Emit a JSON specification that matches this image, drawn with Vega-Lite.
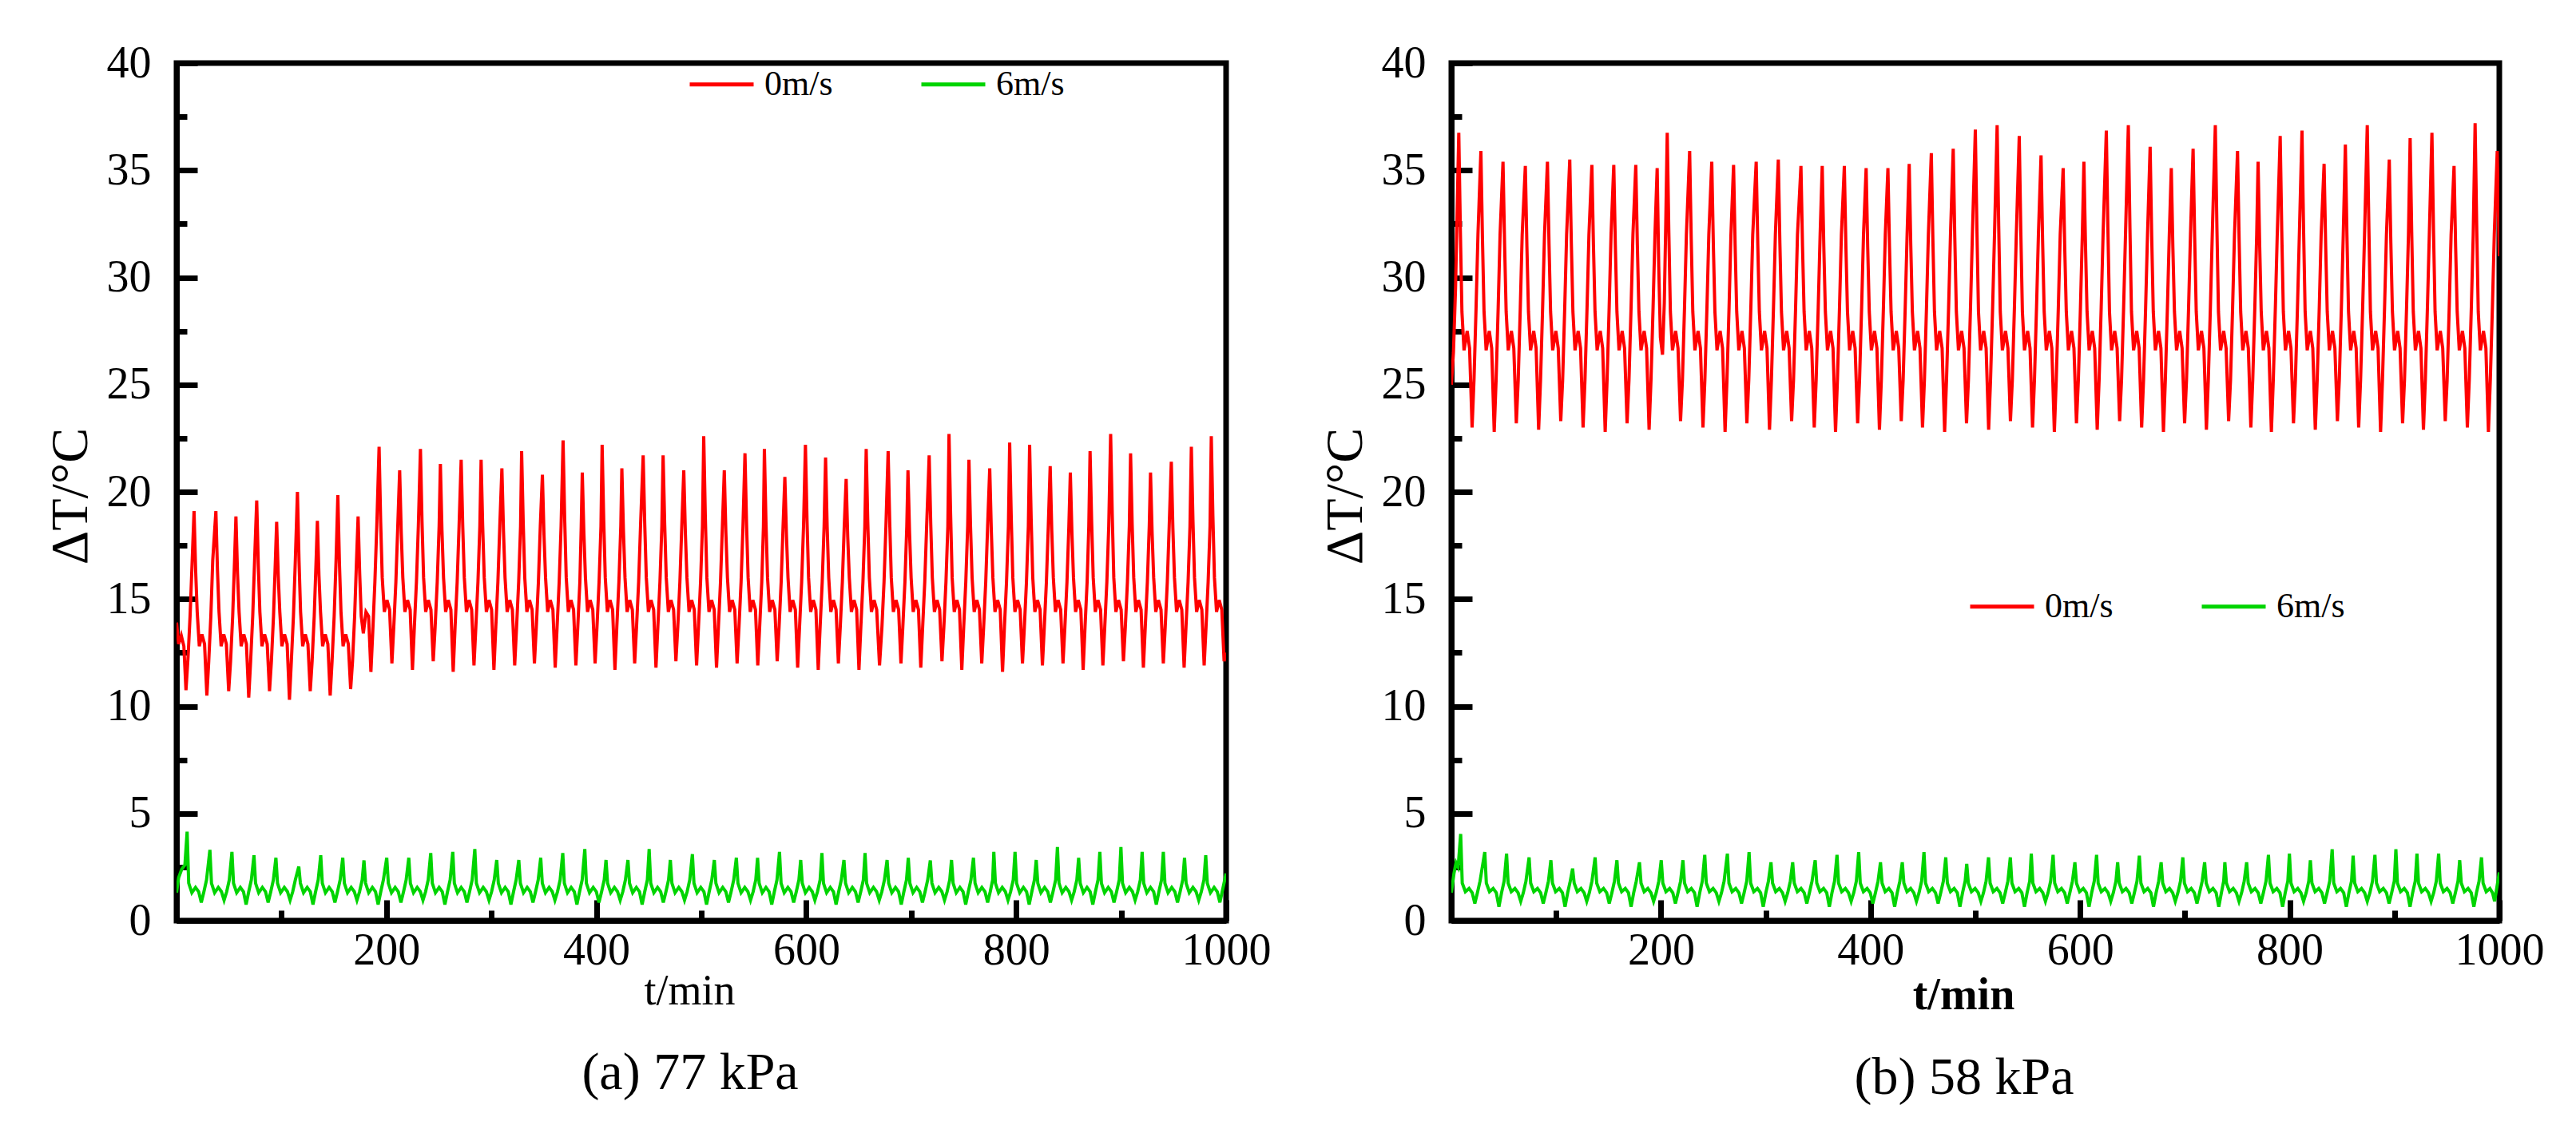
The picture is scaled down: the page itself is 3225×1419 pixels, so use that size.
{
"$schema": "https://vega.github.io/schema/vega-lite/v6.json",
"padding": {"left": 51, "top": 47, "right": 10, "bottom": 10},
"background": "white",
"bounds": "flush",
"spacing": 282,
"config": {
 "font": "Liberation Serif",
 "view": {"stroke": "#000", "strokeWidth": 7},
 "axis": {"grid": false, "domainColor": "#000", "domainWidth": 7, "tickColor": "#000", "tickWidth": 7, "labelFont": "Liberation Serif", "labelFontSize": 56, "labelColor": "#000", "labelFlush": false, "labelOverlap": false, "titleFont": "Liberation Serif", "titleFontSize": 66, "titleFontWeight": "normal", "titleColor": "#000"},
 "legend": {"orient": "none", "direction": "horizontal", "symbolType": "stroke", "symbolSize": 6400, "symbolStrokeWidth": 5, "labelFont": "Liberation Serif", "labelFontSize": 44, "labelColor": "#000", "labelOffset": 11, "columnPadding": 100, "padding": 0, "labelLimit": 400}
},
"datasets": {
"a0": [
{"t":0,"v":13.9},{"t":2,"v":12.9},{"t":4.5,"v":13.3},{"t":7,"v":12.8},{"t":9,"v":10.75},{"t":11,"v":12.3},{"t":13,"v":14.3},{"t":15,"v":16.9},
{"t":16.7,"v":19.1},{"t":18.2,"v":16.35},{"t":19.7,"v":14.4},{"t":21.7,"v":12.8},{"t":24.2,"v":13.35},{"t":26.7,"v":12.9},{"t":28.9,"v":10.5},{"t":30.7,"v":12.1},{"t":32.7,"v":14.2},{"t":34.5,"v":16.8},
{"t":37.5,"v":19.1},{"t":39,"v":16.35},{"t":40.5,"v":14.4},{"t":42.5,"v":12.8},{"t":45,"v":13.35},{"t":47.5,"v":12.9},{"t":49.7,"v":10.7},{"t":51.5,"v":12.1},{"t":53.5,"v":14.2},{"t":55.3,"v":16.8},
{"t":56.6,"v":18.85},{"t":58.1,"v":16.2},{"t":59.6,"v":14.4},{"t":61.6,"v":12.8},{"t":64.1,"v":13.35},{"t":66.6,"v":12.9},{"t":68.8,"v":10.4},{"t":70.6,"v":12.1},{"t":72.6,"v":14.2},{"t":74.4,"v":16.8},
{"t":76.4,"v":19.6},{"t":77.9,"v":16.6},{"t":79.4,"v":14.4},{"t":81.4,"v":12.8},{"t":83.9,"v":13.35},{"t":86.4,"v":12.9},{"t":88.6,"v":10.7},{"t":90.4,"v":12.1},{"t":92.4,"v":14.2},{"t":94.2,"v":16.8},
{"t":95.4,"v":18.6},{"t":96.9,"v":16.1},{"t":98.4,"v":14.4},{"t":100.4,"v":12.8},{"t":102.9,"v":13.35},{"t":105.4,"v":12.9},{"t":107.6,"v":10.3},{"t":109.4,"v":12.1},{"t":111.4,"v":14.2},{"t":113.2,"v":16.8},
{"t":115.2,"v":20},{"t":116.7,"v":16.8},{"t":118.2,"v":14.4},{"t":120.2,"v":12.8},{"t":122.7,"v":13.35},{"t":125.2,"v":12.9},{"t":127.4,"v":10.7},{"t":129.2,"v":12.1},{"t":131.2,"v":14.2},{"t":133,"v":16.8},
{"t":134.2,"v":18.65},{"t":135.7,"v":16.1},{"t":137.2,"v":14.4},{"t":139.2,"v":12.8},{"t":141.7,"v":13.35},{"t":144.2,"v":12.9},{"t":146.4,"v":10.5},{"t":148.2,"v":12.1},{"t":150.2,"v":14.2},{"t":152,"v":16.8},
{"t":153.7,"v":19.85},{"t":155.2,"v":16.7},{"t":156.7,"v":14.4},{"t":158.7,"v":12.8},{"t":161.2,"v":13.35},{"t":163.7,"v":12.9},{"t":165.9,"v":10.8},{"t":167.7,"v":12.1},{"t":169.7,"v":14.2},{"t":171.5,"v":16.8},
{"t":173,"v":18.85},{"t":174.5,"v":16.2},{"t":176,"v":14.2},{"t":178,"v":13.4},{"t":180.5,"v":14.4},{"t":183,"v":14.2},{"t":185.2,"v":11.6},{"t":187,"v":13.5},{"t":189,"v":15.8},{"t":190.8,"v":18.4},
{"t":193,"v":22.1},{"t":194.5,"v":18.6},{"t":196,"v":16},{"t":198,"v":14.4},{"t":200.5,"v":14.95},{"t":203,"v":14.5},{"t":205.2,"v":12},{"t":207,"v":13.7},{"t":209,"v":15.8},{"t":210.8,"v":18.4},
{"t":212.6,"v":21},{"t":214.1,"v":18.1},{"t":215.6,"v":16},{"t":217.6,"v":14.4},{"t":220.1,"v":14.95},{"t":222.6,"v":14.5},{"t":224.8,"v":11.7},{"t":226.6,"v":13.7},{"t":228.6,"v":15.8},{"t":230.4,"v":18.4},
{"t":232.4,"v":22},{"t":233.9,"v":18.6},{"t":235.4,"v":16},{"t":237.4,"v":14.4},{"t":239.9,"v":14.95},{"t":242.4,"v":14.5},{"t":244.6,"v":12.1},{"t":246.4,"v":13.7},{"t":248.4,"v":15.8},{"t":250.2,"v":18.4},
{"t":251.4,"v":21.3},{"t":252.9,"v":18.2},{"t":254.4,"v":16},{"t":256.4,"v":14.4},{"t":258.9,"v":14.95},{"t":261.4,"v":14.5},{"t":263.6,"v":11.6},{"t":265.4,"v":13.7},{"t":267.4,"v":15.8},{"t":269.2,"v":18.4},
{"t":271.2,"v":21.5},{"t":272.7,"v":18.4},{"t":274.2,"v":16},{"t":276.2,"v":14.4},{"t":278.7,"v":14.95},{"t":281.2,"v":14.5},{"t":283.4,"v":11.9},{"t":285.2,"v":13.7},{"t":287.2,"v":15.8},{"t":289,"v":18.4},
{"t":290.2,"v":21.5},{"t":291.7,"v":18.4},{"t":293.2,"v":16},{"t":295.2,"v":14.4},{"t":297.7,"v":14.95},{"t":300.2,"v":14.5},{"t":302.4,"v":11.7},{"t":304.2,"v":13.7},{"t":306.2,"v":15.8},{"t":308,"v":18.4},
{"t":310,"v":21.1},{"t":311.5,"v":18.2},{"t":313,"v":16},{"t":315,"v":14.4},{"t":317.5,"v":14.95},{"t":320,"v":14.5},{"t":322.2,"v":11.9},{"t":324,"v":13.7},{"t":326,"v":15.8},{"t":327.8,"v":18.4},
{"t":328.8,"v":21.9},{"t":330.3,"v":18.6},{"t":331.8,"v":16},{"t":333.8,"v":14.4},{"t":336.3,"v":14.95},{"t":338.8,"v":14.5},{"t":341,"v":12},{"t":342.8,"v":13.7},{"t":344.8,"v":15.8},{"t":346.6,"v":18.4},
{"t":348.6,"v":20.8},{"t":350.1,"v":18},{"t":351.6,"v":16},{"t":353.6,"v":14.4},{"t":356.1,"v":14.95},{"t":358.6,"v":14.5},{"t":360.8,"v":11.8},{"t":362.6,"v":13.7},{"t":364.6,"v":15.8},{"t":366.4,"v":18.4},
{"t":368.3,"v":22.4},{"t":369.8,"v":18.8},{"t":371.3,"v":16},{"t":373.3,"v":14.4},{"t":375.8,"v":14.95},{"t":378.3,"v":14.5},{"t":380.5,"v":11.9},{"t":382.3,"v":13.7},{"t":384.3,"v":15.8},{"t":385.6,"v":18.4},
{"t":386.6,"v":20.9},{"t":388.1,"v":18.1},{"t":389.6,"v":16},{"t":391.6,"v":14.4},{"t":394.1,"v":14.95},{"t":396.6,"v":14.5},{"t":398.8,"v":12},{"t":400.6,"v":13.7},{"t":402.6,"v":15.8},{"t":404.4,"v":18.4},
{"t":405.5,"v":22.2},{"t":407,"v":18.7},{"t":408.5,"v":16},{"t":410.5,"v":14.4},{"t":413,"v":14.95},{"t":415.5,"v":14.5},{"t":417.7,"v":11.7},{"t":419.5,"v":13.7},{"t":421.5,"v":15.8},{"t":423.3,"v":18.4},
{"t":424.3,"v":21.1},{"t":425.8,"v":18.2},{"t":427.3,"v":16},{"t":429.3,"v":14.4},{"t":431.8,"v":14.95},{"t":434.3,"v":14.5},{"t":436.5,"v":12},{"t":438.3,"v":13.7},{"t":440.3,"v":15.8},{"t":442.1,"v":18.4},
{"t":444.6,"v":21.7},{"t":446.1,"v":18.5},{"t":447.6,"v":16},{"t":449.6,"v":14.4},{"t":452.1,"v":14.95},{"t":454.6,"v":14.5},{"t":456.8,"v":11.8},{"t":458.6,"v":13.7},{"t":460.6,"v":15.8},{"t":462.4,"v":18.4},
{"t":463.6,"v":21.7},{"t":465.1,"v":18.5},{"t":466.6,"v":16},{"t":468.6,"v":14.4},{"t":471.1,"v":14.95},{"t":473.6,"v":14.5},{"t":475.8,"v":12.1},{"t":477.6,"v":13.7},{"t":479.6,"v":15.8},{"t":481.4,"v":18.4},
{"t":483.3,"v":21},{"t":484.8,"v":18.1},{"t":486.3,"v":16},{"t":488.3,"v":14.4},{"t":490.8,"v":14.95},{"t":493.3,"v":14.5},{"t":495.5,"v":11.9},{"t":497.3,"v":13.7},{"t":499.3,"v":15.8},{"t":501.1,"v":18.4},
{"t":502.3,"v":22.6},{"t":503.8,"v":18.9},{"t":505.3,"v":16},{"t":507.3,"v":14.4},{"t":509.8,"v":14.95},{"t":512.3,"v":14.5},{"t":514.5,"v":11.8},{"t":516.3,"v":13.7},{"t":518.3,"v":15.8},{"t":520.1,"v":18.4},
{"t":521.9,"v":21},{"t":523.4,"v":18.1},{"t":524.9,"v":16},{"t":526.9,"v":14.4},{"t":529.4,"v":14.95},{"t":531.9,"v":14.5},{"t":534.1,"v":12},{"t":535.9,"v":13.7},{"t":537.9,"v":15.8},{"t":539.7,"v":18.4},
{"t":541.6,"v":21.8},{"t":543.1,"v":18.5},{"t":544.6,"v":16},{"t":546.6,"v":14.4},{"t":549.1,"v":14.95},{"t":551.6,"v":14.5},{"t":553.8,"v":11.9},{"t":555.6,"v":13.7},{"t":557.6,"v":15.8},{"t":559.2,"v":18.4},
{"t":560.1,"v":22},{"t":561.6,"v":18.6},{"t":563.1,"v":16},{"t":565.1,"v":14.4},{"t":567.6,"v":14.95},{"t":570.1,"v":14.5},{"t":572.3,"v":12.1},{"t":574.1,"v":13.7},{"t":576.1,"v":15.8},{"t":577.9,"v":18.4},
{"t":579.6,"v":20.7},{"t":581.1,"v":18},{"t":582.6,"v":16},{"t":584.6,"v":14.4},{"t":587.1,"v":14.95},{"t":589.6,"v":14.5},{"t":591.8,"v":11.8},{"t":593.6,"v":13.7},{"t":595.6,"v":15.8},{"t":597.4,"v":18.4},
{"t":599.2,"v":22.2},{"t":600.7,"v":18.7},{"t":602.2,"v":16},{"t":604.2,"v":14.4},{"t":606.7,"v":14.95},{"t":609.2,"v":14.5},{"t":611.4,"v":11.7},{"t":613.2,"v":13.7},{"t":615.2,"v":15.8},{"t":617,"v":18.4},
{"t":618.4,"v":21.6},{"t":619.9,"v":18.4},{"t":621.4,"v":16},{"t":623.4,"v":14.4},{"t":625.9,"v":14.95},{"t":628.4,"v":14.5},{"t":630.6,"v":12},{"t":632.4,"v":13.7},{"t":634.4,"v":15.8},{"t":636.2,"v":18.4},
{"t":638,"v":20.6},{"t":639.5,"v":17.9},{"t":641,"v":16},{"t":643,"v":14.4},{"t":645.5,"v":14.95},{"t":648,"v":14.5},{"t":650.2,"v":11.7},{"t":652,"v":13.7},{"t":654,"v":15.8},{"t":655.8,"v":18.4},
{"t":657.1,"v":22},{"t":658.6,"v":18.6},{"t":660.1,"v":16},{"t":662.1,"v":14.4},{"t":664.6,"v":14.95},{"t":667.1,"v":14.5},{"t":669.8,"v":11.9},{"t":672.1,"v":13.7},{"t":674.1,"v":15.8},{"t":675.9,"v":18.4},
{"t":678,"v":21.9},{"t":679.5,"v":18.6},{"t":681,"v":16},{"t":683,"v":14.4},{"t":685.5,"v":14.95},{"t":688,"v":14.5},{"t":690.2,"v":12},{"t":692,"v":13.7},{"t":694,"v":15.8},{"t":695.8,"v":18.4},
{"t":696.9,"v":21},{"t":698.4,"v":18.1},{"t":699.9,"v":16},{"t":701.9,"v":14.4},{"t":704.4,"v":14.95},{"t":706.9,"v":14.5},{"t":709.1,"v":11.8},{"t":710.9,"v":13.7},{"t":712.9,"v":15.8},{"t":714.7,"v":18.4},
{"t":717.1,"v":21.7},{"t":718.6,"v":18.5},{"t":720.1,"v":16},{"t":722.1,"v":14.4},{"t":724.6,"v":14.95},{"t":727.1,"v":14.5},{"t":729.3,"v":12.1},{"t":731.1,"v":13.7},{"t":733.1,"v":15.8},{"t":734.9,"v":18.4},
{"t":736,"v":22.7},{"t":737.5,"v":19},{"t":739,"v":16},{"t":741,"v":14.4},{"t":743.5,"v":14.95},{"t":746,"v":14.5},{"t":748.2,"v":11.7},{"t":750,"v":13.7},{"t":752,"v":15.8},{"t":753.8,"v":18.4},
{"t":755,"v":21.5},{"t":756.5,"v":18.4},{"t":758,"v":16},{"t":760,"v":14.4},{"t":762.5,"v":14.95},{"t":765,"v":14.5},{"t":767.2,"v":12},{"t":769,"v":13.7},{"t":771,"v":15.8},{"t":772.8,"v":18.4},
{"t":774.8,"v":21.1},{"t":776.3,"v":18.2},{"t":777.8,"v":16},{"t":779.8,"v":14.4},{"t":782.3,"v":14.95},{"t":784.8,"v":14.5},{"t":787,"v":11.6},{"t":788.8,"v":13.7},{"t":790.8,"v":15.8},{"t":792.6,"v":18.4},
{"t":793.8,"v":22.3},{"t":795.3,"v":18.8},{"t":796.8,"v":16},{"t":798.8,"v":14.4},{"t":801.3,"v":14.95},{"t":803.8,"v":14.5},{"t":806,"v":12},{"t":807.8,"v":13.7},{"t":809.8,"v":15.8},{"t":811.6,"v":18.4},
{"t":812.8,"v":22.2},{"t":814.3,"v":18.7},{"t":815.8,"v":16},{"t":817.8,"v":14.4},{"t":820.3,"v":14.95},{"t":822.8,"v":14.5},{"t":825,"v":11.9},{"t":826.8,"v":13.7},{"t":828.8,"v":15.8},{"t":830.6,"v":18.4},
{"t":832.4,"v":21.2},{"t":833.9,"v":18.2},{"t":835.4,"v":16},{"t":837.4,"v":14.4},{"t":839.9,"v":14.95},{"t":842.4,"v":14.5},{"t":844.6,"v":12},{"t":846.4,"v":13.7},{"t":848.4,"v":15.8},{"t":850.2,"v":18.4},
{"t":851.6,"v":20.9},{"t":853.1,"v":18.1},{"t":854.6,"v":16},{"t":856.6,"v":14.4},{"t":859.1,"v":14.95},{"t":861.6,"v":14.5},{"t":863.8,"v":11.7},{"t":865.6,"v":13.7},{"t":867.6,"v":15.8},{"t":869.2,"v":18.4},
{"t":870.4,"v":21.9},{"t":871.9,"v":18.6},{"t":873.4,"v":16},{"t":875.4,"v":14.4},{"t":877.9,"v":14.95},{"t":880.4,"v":14.5},{"t":882.6,"v":11.9},{"t":884.4,"v":13.7},{"t":886.4,"v":15.8},{"t":888.2,"v":18.4},
{"t":890,"v":22.7},{"t":891.5,"v":19},{"t":893,"v":16},{"t":895,"v":14.4},{"t":897.5,"v":14.95},{"t":900,"v":14.5},{"t":902.2,"v":12.1},{"t":904,"v":13.7},{"t":906,"v":15.8},{"t":907.8,"v":18.4},
{"t":909,"v":21.8},{"t":910.5,"v":18.5},{"t":912,"v":16},{"t":914,"v":14.4},{"t":916.5,"v":14.95},{"t":919,"v":14.5},{"t":921.2,"v":11.8},{"t":923,"v":13.7},{"t":925,"v":15.8},{"t":926.8,"v":18.4},
{"t":928,"v":20.9},{"t":929.5,"v":18.1},{"t":931,"v":16},{"t":933,"v":14.4},{"t":935.5,"v":14.95},{"t":938,"v":14.5},{"t":940.2,"v":12},{"t":942,"v":13.7},{"t":944,"v":15.8},{"t":945.8,"v":18.4},
{"t":947.8,"v":21.4},{"t":949.3,"v":18.3},{"t":950.8,"v":16},{"t":952.8,"v":14.4},{"t":955.3,"v":14.95},{"t":957.8,"v":14.5},{"t":960,"v":11.8},{"t":961.8,"v":13.7},{"t":963.8,"v":15.8},{"t":965.6,"v":18.4},
{"t":966.9,"v":22.1},{"t":968.4,"v":18.7},{"t":969.9,"v":16},{"t":971.9,"v":14.4},{"t":974.4,"v":14.95},{"t":976.9,"v":14.5},{"t":979.1,"v":11.9},{"t":980.9,"v":13.7},{"t":982.9,"v":15.8},{"t":984.7,"v":18.4},
{"t":985.9,"v":22.6},{"t":987.4,"v":18.9},{"t":988.9,"v":16},{"t":990.9,"v":14.4},{"t":993.4,"v":14.95},{"t":995.9,"v":14.5},{"t":998.1,"v":12.1},{"t":1000,"v":12.5}
],
"a6": [
{"t":0,"v":1.3},{"t":2,"v":2.0},{"t":5,"v":2.4},{"t":8,"v":2.6},
{"t":10.1,"v":4.15},{"t":11.6,"v":1.75},{"t":14.6,"v":1.3},{"t":18.1,"v":1.55},{"t":21.1,"v":1.35},{"t":23.6,"v":0.85},{"t":26.1,"v":1.35},{"t":28.6,"v":1.9},
{"t":31.8,"v":3.3},{"t":33.3,"v":1.75},{"t":36.3,"v":1.3},{"t":39.8,"v":1.55},{"t":42.8,"v":1.35},{"t":45.3,"v":0.95},{"t":47.8,"v":1.35},{"t":50.3,"v":1.9},
{"t":52.8,"v":3.21},{"t":54.3,"v":1.75},{"t":57.3,"v":1.3},{"t":60.8,"v":1.55},{"t":63.8,"v":1.35},{"t":66.3,"v":0.75},{"t":68.8,"v":1.35},{"t":71.3,"v":1.9},
{"t":73.8,"v":3.05},{"t":75.3,"v":1.75},{"t":78.3,"v":1.3},{"t":81.8,"v":1.55},{"t":84.8,"v":1.35},{"t":87.3,"v":0.85},{"t":89.8,"v":1.35},{"t":92.3,"v":1.9},
{"t":94.7,"v":2.93},{"t":96.2,"v":1.75},{"t":99.2,"v":1.3},{"t":102.7,"v":1.55},{"t":105.7,"v":1.35},{"t":108.2,"v":0.95},{"t":110.7,"v":1.35},{"t":113.2,"v":1.9},
{"t":116.5,"v":2.52},{"t":118,"v":1.75},{"t":121,"v":1.3},{"t":124.5,"v":1.55},{"t":127.5,"v":1.35},{"t":130,"v":0.75},{"t":132.5,"v":1.35},{"t":135,"v":1.9},
{"t":137.4,"v":3.05},{"t":138.9,"v":1.75},{"t":141.9,"v":1.3},{"t":145.4,"v":1.55},{"t":148.4,"v":1.35},{"t":150.9,"v":0.85},{"t":153.4,"v":1.35},{"t":155.9,"v":1.9},
{"t":158.4,"v":2.93},{"t":159.9,"v":1.75},{"t":162.9,"v":1.3},{"t":166.4,"v":1.55},{"t":169.4,"v":1.35},{"t":171.9,"v":0.95},{"t":174.4,"v":1.35},{"t":176.9,"v":1.9},
{"t":178.6,"v":2.81},{"t":180.1,"v":1.75},{"t":183.1,"v":1.3},{"t":186.6,"v":1.55},{"t":189.6,"v":1.35},{"t":192.1,"v":0.75},{"t":194.6,"v":1.35},{"t":197.1,"v":1.9},
{"t":200.3,"v":2.93},{"t":201.8,"v":1.75},{"t":204.8,"v":1.3},{"t":208.3,"v":1.55},{"t":211.3,"v":1.35},{"t":213.8,"v":0.85},{"t":216.3,"v":1.35},{"t":218.8,"v":1.9},
{"t":221.3,"v":2.93},{"t":222.8,"v":1.75},{"t":225.8,"v":1.3},{"t":229.3,"v":1.55},{"t":232.3,"v":1.35},{"t":234.8,"v":0.95},{"t":237.3,"v":1.35},{"t":239.8,"v":1.9},
{"t":242.2,"v":3.15},{"t":243.7,"v":1.75},{"t":246.7,"v":1.3},{"t":250.2,"v":1.55},{"t":253.2,"v":1.35},{"t":255.7,"v":0.75},{"t":258.2,"v":1.35},{"t":260.7,"v":1.9},
{"t":263.2,"v":3.21},{"t":264.7,"v":1.75},{"t":267.7,"v":1.3},{"t":271.2,"v":1.55},{"t":274.2,"v":1.35},{"t":276.7,"v":0.85},{"t":279.2,"v":1.35},{"t":281.7,"v":1.9},
{"t":284.2,"v":3.34},{"t":285.7,"v":1.75},{"t":288.7,"v":1.3},{"t":292.2,"v":1.55},{"t":295.2,"v":1.35},{"t":297.7,"v":0.95},{"t":300.2,"v":1.35},{"t":302.7,"v":1.9},
{"t":305.1,"v":2.83},{"t":306.6,"v":1.75},{"t":309.6,"v":1.3},{"t":313.1,"v":1.55},{"t":316.1,"v":1.35},{"t":318.6,"v":0.75},{"t":321.1,"v":1.35},{"t":323.6,"v":1.9},
{"t":326.1,"v":2.83},{"t":327.6,"v":1.75},{"t":330.6,"v":1.3},{"t":334.1,"v":1.55},{"t":337.1,"v":1.35},{"t":339.6,"v":0.85},{"t":342.1,"v":1.35},{"t":344.6,"v":1.9},
{"t":347,"v":2.93},{"t":348.5,"v":1.75},{"t":351.5,"v":1.3},{"t":355,"v":1.55},{"t":358,"v":1.35},{"t":360.5,"v":0.95},{"t":363,"v":1.35},{"t":365.5,"v":1.9},
{"t":368,"v":3.15},{"t":369.5,"v":1.75},{"t":372.5,"v":1.3},{"t":376,"v":1.55},{"t":379,"v":1.35},{"t":381.5,"v":0.75},{"t":384,"v":1.35},{"t":386.5,"v":1.9},
{"t":389,"v":3.34},{"t":390.5,"v":1.75},{"t":393.5,"v":1.3},{"t":397,"v":1.55},{"t":400,"v":1.35},{"t":402.5,"v":0.85},{"t":405,"v":1.35},{"t":407.5,"v":1.9},
{"t":409.2,"v":2.83},{"t":410.7,"v":1.75},{"t":413.7,"v":1.3},{"t":417.2,"v":1.55},{"t":420.2,"v":1.35},{"t":422.7,"v":0.95},{"t":425.2,"v":1.35},{"t":427.7,"v":1.9},
{"t":430.1,"v":2.83},{"t":431.6,"v":1.75},{"t":434.6,"v":1.3},{"t":438.1,"v":1.55},{"t":441.1,"v":1.35},{"t":443.6,"v":0.75},{"t":446.1,"v":1.35},{"t":448.6,"v":1.9},
{"t":450.3,"v":3.34},{"t":451.8,"v":1.75},{"t":454.8,"v":1.3},{"t":458.3,"v":1.55},{"t":461.3,"v":1.35},{"t":463.8,"v":0.85},{"t":466.3,"v":1.35},{"t":468.8,"v":1.9},
{"t":470.5,"v":2.83},{"t":472,"v":1.75},{"t":475,"v":1.3},{"t":478.5,"v":1.55},{"t":481.5,"v":1.35},{"t":484,"v":0.95},{"t":486.5,"v":1.35},{"t":489,"v":1.9},
{"t":491.5,"v":3.1},{"t":493,"v":1.75},{"t":496,"v":1.3},{"t":499.5,"v":1.55},{"t":502.5,"v":1.35},{"t":505,"v":0.75},{"t":507.5,"v":1.35},{"t":510,"v":1.9},
{"t":512.4,"v":2.83},{"t":513.9,"v":1.75},{"t":516.9,"v":1.3},{"t":520.4,"v":1.55},{"t":523.4,"v":1.35},{"t":525.9,"v":0.85},{"t":528.4,"v":1.35},{"t":530.9,"v":1.9},
{"t":533.4,"v":2.93},{"t":534.9,"v":1.75},{"t":537.9,"v":1.3},{"t":541.4,"v":1.55},{"t":544.4,"v":1.35},{"t":546.9,"v":0.95},{"t":549.4,"v":1.35},{"t":551.9,"v":1.9},
{"t":553.6,"v":2.93},{"t":555.1,"v":1.75},{"t":558.1,"v":1.3},{"t":561.6,"v":1.55},{"t":564.6,"v":1.35},{"t":567.1,"v":0.75},{"t":569.6,"v":1.35},{"t":572.1,"v":1.9},
{"t":574.5,"v":3.21},{"t":576,"v":1.75},{"t":579,"v":1.3},{"t":582.5,"v":1.55},{"t":585.5,"v":1.35},{"t":588,"v":0.85},{"t":590.5,"v":1.35},{"t":593,"v":1.9},
{"t":594.7,"v":2.83},{"t":596.2,"v":1.75},{"t":599.2,"v":1.3},{"t":602.7,"v":1.55},{"t":605.7,"v":1.35},{"t":608.2,"v":0.95},{"t":610.7,"v":1.35},{"t":613.2,"v":1.9},
{"t":614.9,"v":3.15},{"t":616.4,"v":1.75},{"t":619.4,"v":1.3},{"t":622.9,"v":1.55},{"t":625.9,"v":1.35},{"t":628.4,"v":0.75},{"t":630.9,"v":1.35},{"t":633.4,"v":1.9},
{"t":635.9,"v":2.83},{"t":637.4,"v":1.75},{"t":640.4,"v":1.3},{"t":643.9,"v":1.55},{"t":646.9,"v":1.35},{"t":649.4,"v":0.85},{"t":651.9,"v":1.35},{"t":654.4,"v":1.9},
{"t":656,"v":3.15},{"t":657.5,"v":1.75},{"t":660.5,"v":1.3},{"t":664,"v":1.55},{"t":667,"v":1.35},{"t":669.5,"v":0.95},{"t":672,"v":1.35},{"t":674.5,"v":1.9},
{"t":677,"v":2.83},{"t":678.5,"v":1.75},{"t":681.5,"v":1.3},{"t":685,"v":1.55},{"t":688,"v":1.35},{"t":690.5,"v":0.75},{"t":693,"v":1.35},{"t":695.5,"v":1.9},
{"t":697.2,"v":2.93},{"t":698.7,"v":1.75},{"t":701.7,"v":1.3},{"t":705.2,"v":1.55},{"t":708.2,"v":1.35},{"t":710.7,"v":0.85},{"t":713.2,"v":1.35},{"t":715.7,"v":1.9},
{"t":718.2,"v":2.81},{"t":719.7,"v":1.75},{"t":722.7,"v":1.3},{"t":726.2,"v":1.55},{"t":729.2,"v":1.35},{"t":731.7,"v":0.95},{"t":734.2,"v":1.35},{"t":736.7,"v":1.9},
{"t":738.4,"v":2.83},{"t":739.9,"v":1.75},{"t":742.9,"v":1.3},{"t":746.4,"v":1.55},{"t":749.4,"v":1.35},{"t":751.9,"v":0.75},{"t":754.4,"v":1.35},{"t":756.9,"v":1.9},
{"t":759.3,"v":2.93},{"t":760.8,"v":1.75},{"t":763.8,"v":1.3},{"t":767.3,"v":1.55},{"t":770.3,"v":1.35},{"t":772.8,"v":0.85},{"t":775.3,"v":1.35},{"t":777.6,"v":1.9},
{"t":778.7,"v":3.21},{"t":780.2,"v":1.75},{"t":783.2,"v":1.3},{"t":786.7,"v":1.55},{"t":789.7,"v":1.35},{"t":792.2,"v":0.95},{"t":794.7,"v":1.35},{"t":797.2,"v":1.9},
{"t":798.9,"v":3.21},{"t":800.4,"v":1.75},{"t":803.4,"v":1.3},{"t":806.9,"v":1.55},{"t":809.9,"v":1.35},{"t":812.4,"v":0.75},{"t":814.9,"v":1.35},{"t":817.4,"v":1.9},
{"t":819.1,"v":2.83},{"t":820.6,"v":1.75},{"t":823.6,"v":1.3},{"t":827.1,"v":1.55},{"t":830.1,"v":1.35},{"t":832.6,"v":0.85},{"t":835.1,"v":1.35},{"t":837.6,"v":1.9},
{"t":839.3,"v":3.43},{"t":840.8,"v":1.75},{"t":843.8,"v":1.3},{"t":847.3,"v":1.55},{"t":850.3,"v":1.35},{"t":852.8,"v":0.95},{"t":855.3,"v":1.35},{"t":857.8,"v":1.9},
{"t":859.5,"v":2.93},{"t":861,"v":1.75},{"t":864,"v":1.3},{"t":867.5,"v":1.55},{"t":870.5,"v":1.35},{"t":873,"v":0.75},{"t":875.5,"v":1.35},{"t":878,"v":1.9},
{"t":879.7,"v":3.21},{"t":881.2,"v":1.75},{"t":884.2,"v":1.3},{"t":887.7,"v":1.55},{"t":890.7,"v":1.35},{"t":893.2,"v":0.85},{"t":895.7,"v":1.35},{"t":898.2,"v":1.9},
{"t":899.8,"v":3.43},{"t":901.3,"v":1.75},{"t":904.3,"v":1.3},{"t":907.8,"v":1.55},{"t":910.8,"v":1.35},{"t":913.3,"v":0.95},{"t":915.8,"v":1.35},{"t":918.3,"v":1.9},
{"t":920,"v":3.21},{"t":921.5,"v":1.75},{"t":924.5,"v":1.3},{"t":928,"v":1.55},{"t":931,"v":1.35},{"t":933.5,"v":0.75},{"t":936,"v":1.35},{"t":938.5,"v":1.9},
{"t":940.2,"v":3.21},{"t":941.7,"v":1.75},{"t":944.7,"v":1.3},{"t":948.2,"v":1.55},{"t":951.2,"v":1.35},{"t":953.7,"v":0.85},{"t":956.2,"v":1.35},{"t":958.7,"v":1.9},
{"t":960.4,"v":2.93},{"t":961.9,"v":1.75},{"t":964.9,"v":1.3},{"t":968.4,"v":1.55},{"t":971.4,"v":1.35},{"t":973.9,"v":0.95},{"t":976.4,"v":1.35},{"t":978.9,"v":1.9},
{"t":980.6,"v":3.05},{"t":982.1,"v":1.75},{"t":985.1,"v":1.3},{"t":988.6,"v":1.55},{"t":991.6,"v":1.35},{"t":994.1,"v":0.85},{"t":1000,"v":2.2}
],
"b0": [
{"t":0,"v":25},{"t":2,"v":26.5},{"t":4,"v":29.5},{"t":5.5,"v":33},
{"t":7.1,"v":36.75},{"t":8.6,"v":32.2},{"t":10.1,"v":28.4},{"t":12.1,"v":26.6},{"t":15.1,"v":27.5},{"t":17.4,"v":26.7},{"t":19.8,"v":23},{"t":21.6,"v":25.2},{"t":23.6,"v":28.6},{"t":25.4,"v":32},
{"t":28.2,"v":35.9},{"t":29.7,"v":31.8},{"t":31.2,"v":28.4},{"t":33.2,"v":26.6},{"t":36.2,"v":27.5},{"t":38.5,"v":26.7},{"t":40.9,"v":22.8},{"t":42.7,"v":25.2},{"t":44.7,"v":28.6},{"t":46.5,"v":32},
{"t":49.3,"v":35.4},{"t":50.8,"v":31.55},{"t":52.3,"v":28.4},{"t":54.3,"v":26.6},{"t":57.3,"v":27.5},{"t":59.6,"v":26.7},{"t":62,"v":23.2},{"t":63.8,"v":25.2},{"t":65.8,"v":28.6},{"t":67.6,"v":32},
{"t":70.6,"v":35.2},{"t":72.1,"v":31.45},{"t":73.6,"v":28.4},{"t":75.6,"v":26.6},{"t":78.6,"v":27.5},{"t":80.9,"v":26.7},{"t":83.3,"v":22.9},{"t":85.1,"v":25.2},{"t":87.1,"v":28.6},{"t":88.9,"v":32},
{"t":91.7,"v":35.4},{"t":93.2,"v":31.55},{"t":94.7,"v":28.4},{"t":96.7,"v":26.6},{"t":99.7,"v":27.5},{"t":102,"v":26.7},{"t":104.4,"v":23.3},{"t":106.2,"v":25.2},{"t":108.2,"v":28.6},{"t":110,"v":32},
{"t":113,"v":35.5},{"t":114.5,"v":31.6},{"t":116,"v":28.4},{"t":118,"v":26.6},{"t":121,"v":27.5},{"t":123.3,"v":26.7},{"t":125.7,"v":23},{"t":127.5,"v":25.2},{"t":129.5,"v":28.6},{"t":131.3,"v":32},
{"t":134.1,"v":35.25},{"t":135.6,"v":31.5},{"t":137.1,"v":28.4},{"t":139.1,"v":26.6},{"t":142.1,"v":27.5},{"t":144.4,"v":26.7},{"t":146.8,"v":22.8},{"t":148.6,"v":25.2},{"t":150.6,"v":28.6},{"t":152.4,"v":32},
{"t":155,"v":35.25},{"t":156.5,"v":31.5},{"t":158,"v":28.4},{"t":160,"v":26.6},{"t":163,"v":27.5},{"t":165.3,"v":26.7},{"t":167.7,"v":23.2},{"t":169.5,"v":25.2},{"t":171.5,"v":28.6},{"t":173.3,"v":32},
{"t":176,"v":35.25},{"t":177.5,"v":31.5},{"t":179,"v":28.4},{"t":181,"v":26.6},{"t":184,"v":27.5},{"t":186.3,"v":26.7},{"t":188.7,"v":22.9},{"t":190.5,"v":25.2},{"t":192.5,"v":28.6},{"t":194.3,"v":32},
{"t":196.4,"v":35.1},{"t":197.9,"v":30.5},{"t":199.5,"v":27.2},{"t":201.5,"v":26.4},{"t":203.2,"v":28.8},{"t":204.6,"v":32.5},
{"t":206,"v":36.75},{"t":207.5,"v":32.2},{"t":209,"v":28.4},{"t":211,"v":26.6},{"t":214,"v":27.5},{"t":216.3,"v":26.7},{"t":218.7,"v":23.3},{"t":220.5,"v":25.2},{"t":222.5,"v":28.6},{"t":224.3,"v":32},
{"t":227.4,"v":35.9},{"t":228.9,"v":31.8},{"t":230.4,"v":28.4},{"t":232.4,"v":26.6},{"t":235.4,"v":27.5},{"t":237.7,"v":26.7},{"t":240.1,"v":23},{"t":241.9,"v":25.2},{"t":243.9,"v":28.6},{"t":245.7,"v":32},
{"t":248.5,"v":35.4},{"t":250,"v":31.55},{"t":251.5,"v":28.4},{"t":253.5,"v":26.6},{"t":256.5,"v":27.5},{"t":258.8,"v":26.7},{"t":261.2,"v":22.8},{"t":263,"v":25.2},{"t":265,"v":28.6},{"t":266.8,"v":32},
{"t":269.3,"v":35.25},{"t":270.8,"v":31.5},{"t":272.3,"v":28.4},{"t":274.3,"v":26.6},{"t":277.3,"v":27.5},{"t":279.6,"v":26.7},{"t":282,"v":23.2},{"t":283.8,"v":25.2},{"t":285.8,"v":28.6},{"t":287.6,"v":32},
{"t":290.9,"v":35.4},{"t":292.4,"v":31.55},{"t":293.9,"v":28.4},{"t":295.9,"v":26.6},{"t":298.9,"v":27.5},{"t":301.2,"v":26.7},{"t":303.6,"v":22.9},{"t":305.4,"v":25.2},{"t":307.4,"v":28.6},{"t":309.2,"v":32},
{"t":312,"v":35.5},{"t":313.5,"v":31.6},{"t":315,"v":28.4},{"t":317,"v":26.6},{"t":320,"v":27.5},{"t":322.3,"v":26.7},{"t":324.7,"v":23.3},{"t":326.5,"v":25.2},{"t":328.5,"v":28.6},{"t":330.3,"v":32},
{"t":333.6,"v":35.2},{"t":335.1,"v":31.45},{"t":336.6,"v":28.4},{"t":338.6,"v":26.6},{"t":341.6,"v":27.5},{"t":343.9,"v":26.7},{"t":346.3,"v":23},{"t":348.1,"v":25.2},{"t":350.1,"v":28.6},{"t":351.9,"v":32},
{"t":353.9,"v":35.2},{"t":355.4,"v":31.45},{"t":356.9,"v":28.4},{"t":358.9,"v":26.6},{"t":361.9,"v":27.5},{"t":364.2,"v":26.7},{"t":366.6,"v":22.8},{"t":368.4,"v":25.2},{"t":370.4,"v":28.6},{"t":372.2,"v":32},
{"t":375,"v":35.2},{"t":376.5,"v":31.45},{"t":378,"v":28.4},{"t":380,"v":26.6},{"t":383,"v":27.5},{"t":385.3,"v":26.7},{"t":387.7,"v":23.2},{"t":389.5,"v":25.2},{"t":391.5,"v":28.6},{"t":393.3,"v":32},
{"t":395.8,"v":35.1},{"t":397.3,"v":31.4},{"t":398.8,"v":28.4},{"t":400.8,"v":26.6},{"t":403.8,"v":27.5},{"t":406.1,"v":26.7},{"t":408.5,"v":22.9},{"t":410.3,"v":25.2},{"t":412.3,"v":28.6},{"t":414.1,"v":32},
{"t":416.6,"v":35.1},{"t":418.1,"v":31.4},{"t":419.6,"v":28.4},{"t":421.6,"v":26.6},{"t":424.6,"v":27.5},{"t":426.9,"v":26.7},{"t":429.3,"v":23.3},{"t":431.1,"v":25.2},{"t":433.1,"v":28.6},{"t":434.9,"v":32},
{"t":436.9,"v":35.3},{"t":438.4,"v":31.5},{"t":439.9,"v":28.4},{"t":441.9,"v":26.6},{"t":444.9,"v":27.5},{"t":447.2,"v":26.7},{"t":449.6,"v":23},{"t":451.4,"v":25.2},{"t":453.4,"v":28.6},{"t":455.2,"v":32},
{"t":458,"v":35.8},{"t":459.5,"v":31.75},{"t":461,"v":28.4},{"t":463,"v":26.6},{"t":466,"v":27.5},{"t":468.3,"v":26.7},{"t":470.7,"v":22.8},{"t":472.5,"v":25.2},{"t":474.5,"v":28.6},{"t":476.3,"v":32},
{"t":478.9,"v":36},{"t":480.4,"v":31.85},{"t":481.9,"v":28.4},{"t":483.9,"v":26.6},{"t":486.9,"v":27.5},{"t":489.2,"v":26.7},{"t":491.6,"v":23.2},{"t":493.4,"v":25.2},{"t":495.4,"v":28.6},{"t":497.2,"v":32},
{"t":500,"v":36.9},{"t":501.5,"v":32.3},{"t":503,"v":28.4},{"t":505,"v":26.6},{"t":508,"v":27.5},{"t":510.3,"v":26.7},{"t":512.7,"v":22.9},{"t":514.5,"v":25.2},{"t":516.5,"v":28.6},{"t":518.3,"v":32},
{"t":520.8,"v":37.1},{"t":522.3,"v":32.4},{"t":523.8,"v":28.4},{"t":525.8,"v":26.6},{"t":528.8,"v":27.5},{"t":531.1,"v":26.7},{"t":533.5,"v":23.3},{"t":535.3,"v":25.2},{"t":537.3,"v":28.6},{"t":539.1,"v":32},
{"t":541.9,"v":36.6},{"t":543.4,"v":32.15},{"t":544.9,"v":28.4},{"t":546.9,"v":26.6},{"t":549.9,"v":27.5},{"t":552.2,"v":26.7},{"t":554.6,"v":23},{"t":556.4,"v":25.2},{"t":558.4,"v":28.6},{"t":560.2,"v":32},
{"t":562.7,"v":35.7},{"t":564.2,"v":31.7},{"t":565.7,"v":28.4},{"t":567.7,"v":26.6},{"t":570.7,"v":27.5},{"t":573,"v":26.7},{"t":575.4,"v":22.8},{"t":577.2,"v":25.2},{"t":579.2,"v":28.6},{"t":581,"v":32},
{"t":583.8,"v":35.1},{"t":585.3,"v":31.4},{"t":586.8,"v":28.4},{"t":588.8,"v":26.6},{"t":591.8,"v":27.5},{"t":594.1,"v":26.7},{"t":596.5,"v":23.2},{"t":598.3,"v":25.2},{"t":600.3,"v":28.6},{"t":602.1,"v":32},
{"t":603.6,"v":35.4},{"t":605.1,"v":31.55},{"t":606.6,"v":28.4},{"t":608.6,"v":26.6},{"t":611.6,"v":27.5},{"t":613.9,"v":26.7},{"t":616.3,"v":22.9},{"t":618.1,"v":25.2},{"t":620.1,"v":28.6},{"t":621.9,"v":32},
{"t":625,"v":36.85},{"t":626.5,"v":32.3},{"t":628,"v":28.4},{"t":630,"v":26.6},{"t":633,"v":27.5},{"t":635.3,"v":26.7},{"t":637.7,"v":23.3},{"t":639.5,"v":25.2},{"t":641.5,"v":28.6},{"t":643.3,"v":32},
{"t":646,"v":37.1},{"t":647.5,"v":32.4},{"t":649,"v":28.4},{"t":651,"v":26.6},{"t":654,"v":27.5},{"t":656.3,"v":26.7},{"t":658.7,"v":23},{"t":660.5,"v":25.2},{"t":662.5,"v":28.6},{"t":664.3,"v":32},
{"t":666.8,"v":36.1},{"t":668.3,"v":31.9},{"t":669.8,"v":28.4},{"t":671.8,"v":26.6},{"t":674.8,"v":27.5},{"t":677.1,"v":26.7},{"t":679.5,"v":22.8},{"t":681.3,"v":25.2},{"t":683.3,"v":28.6},{"t":685.1,"v":32},
{"t":687,"v":35.1},{"t":688.5,"v":31.4},{"t":690,"v":28.4},{"t":692,"v":26.6},{"t":695,"v":27.5},{"t":697.3,"v":26.7},{"t":699.7,"v":23.2},{"t":701.5,"v":25.2},{"t":703.5,"v":28.6},{"t":705.3,"v":32},
{"t":707.8,"v":36},{"t":709.3,"v":31.85},{"t":710.8,"v":28.4},{"t":712.8,"v":26.6},{"t":715.8,"v":27.5},{"t":718.1,"v":26.7},{"t":720.5,"v":22.9},{"t":722.3,"v":25.2},{"t":724.3,"v":28.6},{"t":726.1,"v":32},
{"t":729,"v":37.1},{"t":730.5,"v":32.4},{"t":732,"v":28.4},{"t":734,"v":26.6},{"t":737,"v":27.5},{"t":739.3,"v":26.7},{"t":741.7,"v":23.3},{"t":743.5,"v":25.2},{"t":745.5,"v":28.6},{"t":747.3,"v":32},
{"t":750.2,"v":35.9},{"t":751.7,"v":31.8},{"t":753.2,"v":28.4},{"t":755.2,"v":26.6},{"t":758.2,"v":27.5},{"t":760.5,"v":26.7},{"t":762.9,"v":23},{"t":764.7,"v":25.2},{"t":766.7,"v":28.6},{"t":768.5,"v":32},
{"t":769.8,"v":35.4},{"t":771.3,"v":31.55},{"t":772.8,"v":28.4},{"t":774.8,"v":26.6},{"t":777.8,"v":27.5},{"t":780.1,"v":26.7},{"t":782.5,"v":22.8},{"t":784.3,"v":25.2},{"t":786.3,"v":28.6},{"t":788.1,"v":32},
{"t":790.9,"v":36.6},{"t":792.4,"v":32.15},{"t":793.9,"v":28.4},{"t":795.9,"v":26.6},{"t":798.9,"v":27.5},{"t":801.2,"v":26.7},{"t":803.6,"v":23.2},{"t":805.4,"v":25.2},{"t":807.4,"v":28.6},{"t":809.2,"v":32},
{"t":811.7,"v":36.85},{"t":813.2,"v":32.3},{"t":814.7,"v":28.4},{"t":816.7,"v":26.6},{"t":819.7,"v":27.5},{"t":822,"v":26.7},{"t":824.4,"v":22.9},{"t":826.2,"v":25.2},{"t":828.2,"v":28.6},{"t":830,"v":32},
{"t":832.8,"v":35.3},{"t":834.3,"v":31.5},{"t":835.8,"v":28.4},{"t":837.8,"v":26.6},{"t":840.8,"v":27.5},{"t":843.1,"v":26.7},{"t":845.5,"v":23.3},{"t":847.3,"v":25.2},{"t":849.3,"v":28.6},{"t":851.1,"v":32},
{"t":853.1,"v":36.2},{"t":854.6,"v":31.95},{"t":856.1,"v":28.4},{"t":858.1,"v":26.6},{"t":861.1,"v":27.5},{"t":863.4,"v":26.7},{"t":865.8,"v":23},{"t":867.6,"v":25.2},{"t":869.6,"v":28.6},{"t":871.4,"v":32},
{"t":874,"v":37.1},{"t":875.5,"v":32.4},{"t":877,"v":28.4},{"t":879,"v":26.6},{"t":882,"v":27.5},{"t":884.3,"v":26.7},{"t":886.7,"v":22.8},{"t":888.5,"v":25.2},{"t":890.5,"v":28.6},{"t":892.3,"v":32},
{"t":895,"v":35.5},{"t":896.5,"v":31.6},{"t":898,"v":28.4},{"t":900,"v":26.6},{"t":903,"v":27.5},{"t":905.3,"v":26.7},{"t":907.7,"v":23.2},{"t":909.5,"v":25.2},{"t":911.5,"v":28.6},{"t":913.3,"v":32},
{"t":914.9,"v":36.5},{"t":916.4,"v":32.1},{"t":917.9,"v":28.4},{"t":919.9,"v":26.6},{"t":922.9,"v":27.5},{"t":925.2,"v":26.7},{"t":927.6,"v":22.9},{"t":929.4,"v":25.2},{"t":931.4,"v":28.6},{"t":933.2,"v":32},
{"t":935.7,"v":36.75},{"t":937.2,"v":32.2},{"t":938.7,"v":28.4},{"t":940.7,"v":26.6},{"t":943.7,"v":27.5},{"t":946,"v":26.7},{"t":948.4,"v":23.3},{"t":950.2,"v":25.2},{"t":952.2,"v":28.6},{"t":954,"v":32},
{"t":956.8,"v":35.2},{"t":958.3,"v":31.45},{"t":959.8,"v":28.4},{"t":961.8,"v":26.6},{"t":964.8,"v":27.5},{"t":967.1,"v":26.7},{"t":969.5,"v":23},{"t":971.3,"v":25.2},{"t":973.3,"v":28.6},{"t":975.1,"v":32},
{"t":976.9,"v":37.2},{"t":978.4,"v":32.45},{"t":979.9,"v":28.4},{"t":981.9,"v":26.6},{"t":984.9,"v":27.5},{"t":987.2,"v":26.7},{"t":989.6,"v":22.8},{"t":991.4,"v":25.2},{"t":993.4,"v":28.6},{"t":995.2,"v":32},
{"t":998,"v":35.9},{"t":999.2,"v":33},{"t":1000,"v":31}
],
"b6": [
{"t":0,"v":1.3},{"t":2.5,"v":2.2},{"t":4.5,"v":2.7},{"t":6.5,"v":2.5},
{"t":8.9,"v":4.04},{"t":10.4,"v":1.75},{"t":13.4,"v":1.35},{"t":16.9,"v":1.5},{"t":19.9,"v":1.3},{"t":22.4,"v":0.8},{"t":24.9,"v":1.3},{"t":27.4,"v":1.85},
{"t":31.9,"v":3.2},{"t":33.4,"v":1.75},{"t":36.4,"v":1.35},{"t":39.9,"v":1.5},{"t":42.9,"v":1.3},{"t":45.4,"v":0.65},{"t":47.9,"v":1.3},{"t":50.4,"v":1.85},
{"t":52.7,"v":3.12},{"t":54.2,"v":1.75},{"t":57.2,"v":1.35},{"t":60.7,"v":1.5},{"t":63.7,"v":1.3},{"t":66.2,"v":0.9},{"t":68.7,"v":1.3},{"t":71.2,"v":1.85},
{"t":74.2,"v":2.95},{"t":75.7,"v":1.75},{"t":78.7,"v":1.35},{"t":82.2,"v":1.5},{"t":85.2,"v":1.3},{"t":87.7,"v":0.8},{"t":90.2,"v":1.3},{"t":92.7,"v":1.85},
{"t":95,"v":2.82},{"t":96.5,"v":1.75},{"t":99.5,"v":1.35},{"t":103,"v":1.5},{"t":106,"v":1.3},{"t":108.5,"v":0.65},{"t":111,"v":1.3},{"t":113.5,"v":1.85},
{"t":115.7,"v":2.43},{"t":117.2,"v":1.75},{"t":120.2,"v":1.35},{"t":123.7,"v":1.5},{"t":126.7,"v":1.3},{"t":129.2,"v":0.9},{"t":131.7,"v":1.3},{"t":134.2,"v":1.85},
{"t":137.2,"v":2.95},{"t":138.7,"v":1.75},{"t":141.7,"v":1.35},{"t":145.2,"v":1.5},{"t":148.2,"v":1.3},{"t":150.7,"v":0.8},{"t":153.2,"v":1.3},{"t":155.7,"v":1.85},
{"t":158,"v":2.82},{"t":159.5,"v":1.75},{"t":162.5,"v":1.35},{"t":166,"v":1.5},{"t":169,"v":1.3},{"t":171.5,"v":0.65},{"t":174,"v":1.3},{"t":176.5,"v":1.85},
{"t":179.5,"v":2.72},{"t":181,"v":1.75},{"t":184,"v":1.35},{"t":187.5,"v":1.5},{"t":190.5,"v":1.3},{"t":193,"v":0.9},{"t":195.5,"v":1.3},{"t":198,"v":1.85},
{"t":200.3,"v":2.82},{"t":201.8,"v":1.75},{"t":204.8,"v":1.35},{"t":208.3,"v":1.5},{"t":211.3,"v":1.3},{"t":213.8,"v":0.8},{"t":216.3,"v":1.3},{"t":218.8,"v":1.85},
{"t":221,"v":2.82},{"t":222.5,"v":1.75},{"t":225.5,"v":1.35},{"t":229,"v":1.5},{"t":232,"v":1.3},{"t":234.5,"v":0.65},{"t":237,"v":1.3},{"t":239.5,"v":1.85},
{"t":241.8,"v":3.07},{"t":243.3,"v":1.75},{"t":246.3,"v":1.35},{"t":249.8,"v":1.5},{"t":252.8,"v":1.3},{"t":255.3,"v":0.9},{"t":257.8,"v":1.3},{"t":260.3,"v":1.85},
{"t":263.4,"v":3.12},{"t":264.9,"v":1.75},{"t":267.9,"v":1.35},{"t":271.4,"v":1.5},{"t":274.4,"v":1.3},{"t":276.9,"v":0.8},{"t":279.4,"v":1.3},{"t":281.9,"v":1.85},
{"t":284.1,"v":3.2},{"t":285.6,"v":1.75},{"t":288.6,"v":1.35},{"t":292.1,"v":1.5},{"t":295.1,"v":1.3},{"t":297.6,"v":0.65},{"t":300.1,"v":1.3},{"t":302.6,"v":1.85},
{"t":305,"v":2.72},{"t":306.5,"v":1.75},{"t":309.5,"v":1.35},{"t":313,"v":1.5},{"t":316,"v":1.3},{"t":318.5,"v":0.9},{"t":321,"v":1.3},{"t":323.5,"v":1.85},
{"t":325.7,"v":2.72},{"t":327.2,"v":1.75},{"t":330.2,"v":1.35},{"t":333.7,"v":1.5},{"t":336.7,"v":1.3},{"t":339.2,"v":0.8},{"t":341.7,"v":1.3},{"t":344.2,"v":1.85},
{"t":347.2,"v":2.82},{"t":348.7,"v":1.75},{"t":351.7,"v":1.35},{"t":355.2,"v":1.5},{"t":358.2,"v":1.3},{"t":360.7,"v":0.65},{"t":363.2,"v":1.3},{"t":365.7,"v":1.85},
{"t":368,"v":3.07},{"t":369.5,"v":1.75},{"t":372.5,"v":1.35},{"t":376,"v":1.5},{"t":379,"v":1.3},{"t":381.5,"v":0.9},{"t":384,"v":1.3},{"t":386.5,"v":1.85},
{"t":388.7,"v":3.2},{"t":390.2,"v":1.75},{"t":393.2,"v":1.35},{"t":396.7,"v":1.5},{"t":399.7,"v":1.3},{"t":402.2,"v":0.8},{"t":404.7,"v":1.3},{"t":407.2,"v":1.85},
{"t":409.5,"v":2.72},{"t":411,"v":1.75},{"t":414,"v":1.35},{"t":417.5,"v":1.5},{"t":420.5,"v":1.3},{"t":423,"v":0.65},{"t":425.5,"v":1.3},{"t":428,"v":1.85},
{"t":430.3,"v":2.72},{"t":431.8,"v":1.75},{"t":434.8,"v":1.35},{"t":438.3,"v":1.5},{"t":441.3,"v":1.3},{"t":443.8,"v":0.9},{"t":446.3,"v":1.3},{"t":448.8,"v":1.85},
{"t":451,"v":3.2},{"t":452.5,"v":1.75},{"t":455.5,"v":1.35},{"t":459,"v":1.5},{"t":462,"v":1.3},{"t":464.5,"v":0.8},{"t":467,"v":1.3},{"t":469.5,"v":1.85},
{"t":471.8,"v":2.95},{"t":473.3,"v":1.75},{"t":476.3,"v":1.35},{"t":479.8,"v":1.5},{"t":482.8,"v":1.3},{"t":485.3,"v":0.65},{"t":487.8,"v":1.3},{"t":490.3,"v":1.85},
{"t":491.8,"v":2.65},{"t":493.3,"v":1.75},{"t":496.3,"v":1.35},{"t":499.8,"v":1.5},{"t":502.8,"v":1.3},{"t":505.3,"v":0.9},{"t":507.8,"v":1.3},{"t":510.3,"v":1.85},
{"t":512.6,"v":2.95},{"t":514.1,"v":1.75},{"t":517.1,"v":1.35},{"t":520.6,"v":1.5},{"t":523.6,"v":1.3},{"t":526.1,"v":0.8},{"t":528.6,"v":1.3},{"t":531.1,"v":1.85},
{"t":533.4,"v":2.95},{"t":534.9,"v":1.75},{"t":537.9,"v":1.35},{"t":541.4,"v":1.5},{"t":544.4,"v":1.3},{"t":546.9,"v":0.65},{"t":549.4,"v":1.3},{"t":551.9,"v":1.85},
{"t":553.4,"v":3.12},{"t":554.9,"v":1.75},{"t":557.9,"v":1.35},{"t":561.4,"v":1.5},{"t":564.4,"v":1.3},{"t":566.9,"v":0.9},{"t":569.4,"v":1.3},{"t":571.9,"v":1.85},
{"t":574.2,"v":3.07},{"t":575.7,"v":1.75},{"t":578.7,"v":1.35},{"t":582.2,"v":1.5},{"t":585.2,"v":1.3},{"t":587.7,"v":0.8},{"t":590.2,"v":1.3},{"t":592.7,"v":1.85},
{"t":595,"v":2.72},{"t":596.5,"v":1.75},{"t":599.5,"v":1.35},{"t":603,"v":1.5},{"t":606,"v":1.3},{"t":608.5,"v":0.65},{"t":611,"v":1.3},{"t":613.5,"v":1.85},
{"t":615.7,"v":3.07},{"t":617.2,"v":1.75},{"t":620.2,"v":1.35},{"t":623.7,"v":1.5},{"t":626.7,"v":1.3},{"t":629.2,"v":0.9},{"t":631.7,"v":1.3},{"t":634.2,"v":1.85},
{"t":635.8,"v":2.72},{"t":637.3,"v":1.75},{"t":640.3,"v":1.35},{"t":643.8,"v":1.5},{"t":646.8,"v":1.3},{"t":649.3,"v":0.8},{"t":651.8,"v":1.3},{"t":654.3,"v":1.85},
{"t":656.5,"v":3.03},{"t":658,"v":1.75},{"t":661,"v":1.35},{"t":664.5,"v":1.5},{"t":667.5,"v":1.3},{"t":670,"v":0.65},{"t":672.5,"v":1.3},{"t":675,"v":1.85},
{"t":677.3,"v":2.72},{"t":678.8,"v":1.75},{"t":681.8,"v":1.35},{"t":685.3,"v":1.5},{"t":688.3,"v":1.3},{"t":690.8,"v":0.9},{"t":693.3,"v":1.3},{"t":695.8,"v":1.85},
{"t":698,"v":2.95},{"t":699.5,"v":1.75},{"t":702.5,"v":1.35},{"t":706,"v":1.5},{"t":709,"v":1.3},{"t":711.5,"v":0.8},{"t":714,"v":1.3},{"t":716.5,"v":1.85},
{"t":718.8,"v":2.72},{"t":720.3,"v":1.75},{"t":723.3,"v":1.35},{"t":726.8,"v":1.5},{"t":729.8,"v":1.3},{"t":732.3,"v":0.65},{"t":734.8,"v":1.3},{"t":737,"v":1.85},
{"t":738.1,"v":2.72},{"t":739.6,"v":1.75},{"t":742.6,"v":1.35},{"t":746.1,"v":1.5},{"t":749.1,"v":1.3},{"t":751.6,"v":0.9},{"t":754.1,"v":1.3},{"t":756.6,"v":1.85},
{"t":758.9,"v":2.72},{"t":760.4,"v":1.75},{"t":763.4,"v":1.35},{"t":766.9,"v":1.5},{"t":769.9,"v":1.3},{"t":772.4,"v":0.8},{"t":774.9,"v":1.3},{"t":777.4,"v":1.85},
{"t":779.7,"v":3.07},{"t":781.2,"v":1.75},{"t":784.2,"v":1.35},{"t":787.7,"v":1.5},{"t":790.7,"v":1.3},{"t":793.2,"v":0.65},{"t":795.7,"v":1.3},{"t":798.2,"v":1.85},
{"t":799.7,"v":3.12},{"t":801.2,"v":1.75},{"t":804.2,"v":1.35},{"t":807.7,"v":1.5},{"t":810.7,"v":1.3},{"t":813.2,"v":0.9},{"t":815.7,"v":1.3},{"t":818.2,"v":1.85},
{"t":819.7,"v":2.82},{"t":821.2,"v":1.75},{"t":824.2,"v":1.35},{"t":827.7,"v":1.5},{"t":830.7,"v":1.3},{"t":833.2,"v":0.8},{"t":835.7,"v":1.3},{"t":838.2,"v":1.85},
{"t":840.5,"v":3.33},{"t":842,"v":1.75},{"t":845,"v":1.35},{"t":848.5,"v":1.5},{"t":851.5,"v":1.3},{"t":854,"v":0.65},{"t":856.5,"v":1.3},{"t":859,"v":1.85},
{"t":860.5,"v":3.03},{"t":862,"v":1.75},{"t":865,"v":1.35},{"t":868.5,"v":1.5},{"t":871.5,"v":1.3},{"t":874,"v":0.9},{"t":876.5,"v":1.3},{"t":879,"v":1.85},
{"t":881.3,"v":3.07},{"t":882.8,"v":1.75},{"t":885.8,"v":1.35},{"t":889.3,"v":1.5},{"t":892.3,"v":1.3},{"t":894.8,"v":0.8},{"t":897.3,"v":1.3},{"t":899.8,"v":1.85},
{"t":901.3,"v":3.33},{"t":902.8,"v":1.75},{"t":905.8,"v":1.35},{"t":909.3,"v":1.5},{"t":912.3,"v":1.3},{"t":914.8,"v":0.65},{"t":917.3,"v":1.3},{"t":919.8,"v":1.85},
{"t":921.4,"v":3.12},{"t":922.9,"v":1.75},{"t":925.9,"v":1.35},{"t":929.4,"v":1.5},{"t":932.4,"v":1.3},{"t":934.9,"v":0.9},{"t":937.4,"v":1.3},{"t":939.9,"v":1.85},
{"t":942.1,"v":3.12},{"t":943.6,"v":1.75},{"t":946.6,"v":1.35},{"t":950.1,"v":1.5},{"t":953.1,"v":1.3},{"t":955.6,"v":0.8},{"t":958.1,"v":1.3},{"t":960.6,"v":1.85},
{"t":962.2,"v":2.82},{"t":963.7,"v":1.75},{"t":966.7,"v":1.35},{"t":970.2,"v":1.5},{"t":973.2,"v":1.3},{"t":975.7,"v":0.65},{"t":978.2,"v":1.3},{"t":980.7,"v":1.85},
{"t":983,"v":2.95},{"t":984.5,"v":1.75},{"t":987.5,"v":1.35},{"t":991,"v":1.5},{"t":993.5,"v":1.3},{"t":995.5,"v":0.9},{"t":1000,"v":2.25}
]
},
"hconcat": [
{
 "width": 1314, "height": 1074,
 "title": {"text": "(a) 77 kPa", "orient": "bottom", "anchor": "middle", "frame": "group", "font": "Liberation Serif", "fontSize": 66, "fontWeight": "normal", "color": "#000", "offset": 44, "dx": -14},
 "layer": [
  {"data": {"name": "a0"}, "mark": {"type": "line", "strokeWidth": 4, "clip": true},
   "encoding": {
    "x": {"field": "t", "type": "quantitative", "scale": {"domain": [0, 1000], "nice": false}, "axis": {"values": [0,100,200,300,400,500,600,700,800,900,1000], "format": "d", "labelExpr": "datum.value % 200 === 0 && datum.value > 0 ? datum.label : ''", "labelBaseline": "alphabetic", "labelPadding": {"condition": {"test": "datum.value % 200 === 0", "value": 80}, "value": 67}, "tickSize": {"condition": {"test": "datum.value % 200 === 0", "value": -26}, "value": -13}, "title": "t/min", "titleFontSize": 54, "titleX": 642, "titleY": 104, "titleBaseline": "alphabetic", "titleAlign": "center"}},
    "y": {"field": "v", "type": "quantitative", "scale": {"domain": [0, 40], "nice": false}, "axis": {"values": [0,2.5,5,7.5,10,12.5,15,17.5,20,22.5,25,27.5,30,32.5,35,37.5,40], "labelExpr": "datum.value % 5 === 0 ? datum.label : ''", "labelPadding": {"condition": {"test": "datum.value % 5 === 0", "value": 58}, "value": 45}, "tickSize": {"condition": {"test": "datum.value % 5 === 0", "value": -26}, "value": -13}, "title": "ΔT/°C", "titleX": -113, "titleY": 542, "titleBaseline": "alphabetic", "titleAlign": "center", "titleAngle": -90}},
    "color": {"datum": "0m/s", "type": "nominal", "scale": {"domain": ["0m/s", "6m/s"], "range": ["#ff0000", "#00d400"]}, "legend": {"title": null, "legendX": 640, "legendY": -16}}
   }},
  {"data": {"name": "a6"}, "mark": {"type": "line", "strokeWidth": 4, "clip": true},
   "encoding": {
    "x": {"field": "t", "type": "quantitative"},
    "y": {"field": "v", "type": "quantitative"},
    "color": {"datum": "6m/s", "type": "nominal"}
   }}
 ]
},
{
 "width": 1312, "height": 1074,
 "title": {"text": "(b) 58 kPa", "orient": "bottom", "anchor": "middle", "frame": "group", "font": "Liberation Serif", "fontSize": 66, "fontWeight": "normal", "color": "#000", "offset": 44, "dx": -14},
 "layer": [
  {"data": {"name": "b0"}, "mark": {"type": "line", "strokeWidth": 4, "clip": true},
   "encoding": {
    "x": {"field": "t", "type": "quantitative", "scale": {"domain": [0, 1000], "nice": false}, "axis": {"values": [0,100,200,300,400,500,600,700,800,900,1000], "format": "d", "labelExpr": "datum.value % 200 === 0 && datum.value > 0 ? datum.label : ''", "labelBaseline": "alphabetic", "labelPadding": {"condition": {"test": "datum.value % 200 === 0", "value": 80}, "value": 67}, "tickSize": {"condition": {"test": "datum.value % 200 === 0", "value": -26}, "value": -13}, "title": "t/min", "titleFontSize": 56, "titleFontWeight": "bold", "titleX": 641, "titleY": 110, "titleBaseline": "alphabetic", "titleAlign": "center"}},
    "y": {"field": "v", "type": "quantitative", "scale": {"domain": [0, 40], "nice": false}, "axis": {"values": [0,2.5,5,7.5,10,12.5,15,17.5,20,22.5,25,27.5,30,32.5,35,37.5,40], "labelExpr": "datum.value % 5 === 0 ? datum.label : ''", "labelPadding": {"condition": {"test": "datum.value % 5 === 0", "value": 58}, "value": 45}, "tickSize": {"condition": {"test": "datum.value % 5 === 0", "value": -26}, "value": -13}, "title": "ΔT/°C", "titleX": -113, "titleY": 542, "titleBaseline": "alphabetic", "titleAlign": "center", "titleAngle": -90}},
    "color": {"datum": "0m/s", "type": "nominal", "scale": {"domain": ["0m/s", "6m/s"], "range": ["#ff0000", "#00d400"]}, "legend": {"title": null, "legendX": 647, "legendY": 638}}
   }},
  {"data": {"name": "b6"}, "mark": {"type": "line", "strokeWidth": 4, "clip": true},
   "encoding": {
    "x": {"field": "t", "type": "quantitative"},
    "y": {"field": "v", "type": "quantitative"},
    "color": {"datum": "6m/s", "type": "nominal"}
   }}
 ]
}
],
"resolve": {"scale": {"color": "independent"}, "legend": {"color": "independent"}}
}
